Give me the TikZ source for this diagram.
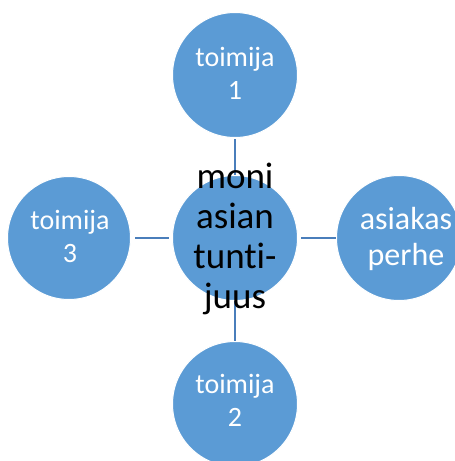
\documentclass[tikz,border=0pt]{standalone}
\usepackage{fontspec}
\setmainfont{Carlito}[Ligatures=NoCommon]
\definecolor{circblue}{HTML}{5B9BD5}
\definecolor{linkblue}{HTML}{4A7EBB}
\newcommand{\mlines}[1]{\renewcommand{\arraystretch}{1}\begin{tabular}[t]{@{}c@{}}#1\end{tabular}}
\begin{document}
\begin{tikzpicture}[x=1pt,y=-1pt,
  bubble/.style={circle,fill=circblue,draw=white,line width=1pt,minimum size=125pt,inner sep=0pt},
  outertext/.style={text=white,anchor=base,inner sep=0pt,font=\fontsize{28}{33}\selectfont},
  bigoutertext/.style={text=white,anchor=base,inner sep=0pt,font=\fontsize{32}{36}\selectfont},
  centertext/.style={text=black,anchor=base,inner sep=0pt,font=\fontsize{37}{40}\selectfont},
  link/.style={draw=linkblue,line width=2pt}]
\useasboundingbox (0,0) rectangle (455,461);
\node[bubble] (c) at (235,238) {};
\node[bubble] (t) at (235,75) {};
\node[bubble] (b) at (235,404) {};
\node[bubble,minimum size=123pt] (l) at (69,238) {};
\node[bubble] (r) at (399,238) {};
\draw[link] (t.south) ++(0,1) -- (c.north);
\draw[link] (c.south) -- (b.north);
\draw[link] (l.east) ++(4,0) -- ([xshift=-3pt]c.west);
\draw[link] (c.east) ++(3,0) -- (r.west);
\node[outertext] (tt) at (235,66.7) {\mlines{toimija\\1}};
\node[outertext] (bt) at (235,393) {\mlines{toimija\\2}};
\node[outertext] (lt) at (70,229) {\mlines{toimija\\3}};
\node[bigoutertext] (rt) at (406,229) {\mlines{asiakas\\perhe}};
\node[centertext] (ct) at (235,188) {\mlines{moni\\asian\\tunti-\\juus}};
\end{tikzpicture}
\end{document}
